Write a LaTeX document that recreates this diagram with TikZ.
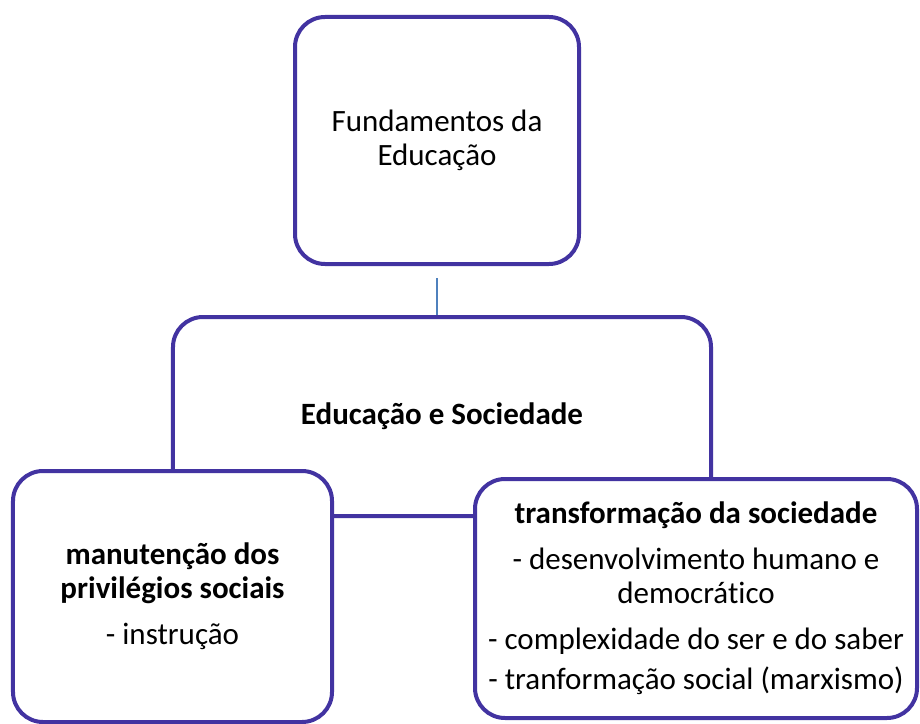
\documentclass[tikz,border=0pt]{standalone}
\usepackage{fontspec}
\setmainfont{Carlito}[Ligatures={NoCommon}]
\definecolor{boxpurple}{RGB}{66, 51, 161}
\definecolor{linkblue}{RGB}{79, 129, 189}

\begin{document}
\begin{tikzpicture}[x=1bp,y=-1bp,
		box/.style={draw=boxpurple, line width=4bp, rounded corners=30bp, fill=white, align=center, font=\fontsize{31bp}{34bp}\selectfont},
		link/.style={draw=linkblue, line width=2bp}]
				\useasboundingbox (0,0) rectangle (920,724);
				\node[box, minimum width=538bp, minimum height=199bp] (soc) at (442,416.5) {\textbf{Educação e Sociedade}};
				\node[box, minimum width=284bp, minimum height=247bp] (fund) at (437,140.5) {Fundamentos da\\Educação};
				\draw[link, shorten <=12bp] (fund.south) -- (fund.south |- soc.north);
					\node[box, minimum width=319bp, minimum height=251bp] (manut) at (172.5,596.5) {\textbf{manutenção dos}\\\textbf{privilégios sociais}\\[12bp]- instrução};
					\node[box, minimum width=442bp, minimum height=239bp] (transf) at (696,598.5) {\textbf{transformação da sociedade}\\[12bp]- desenvolvimento humano e\\democrático\\[12bp]- complexidade do ser e do saber\\[6bp]- tranformação social (marxismo)};
			\end{tikzpicture}
\end{document}
